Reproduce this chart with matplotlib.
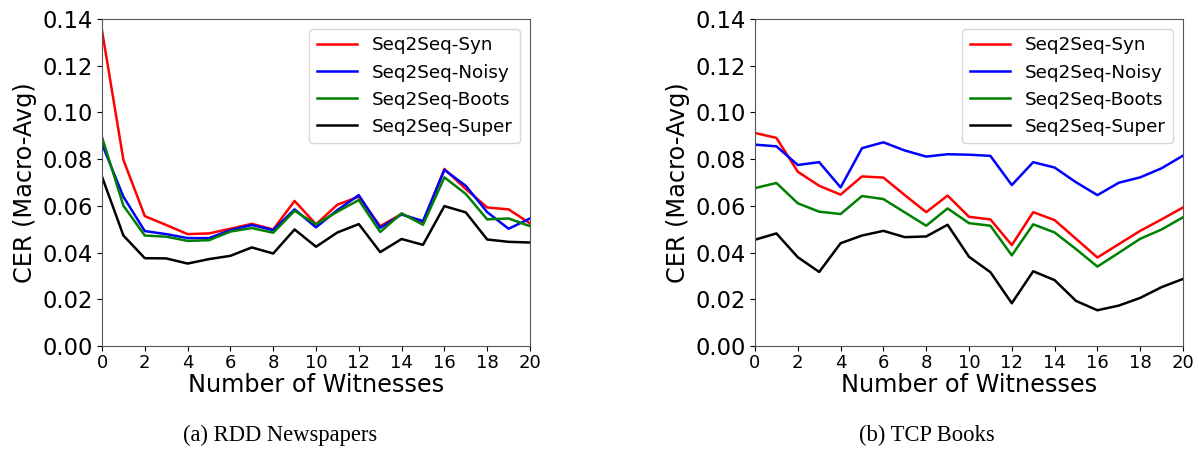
import matplotlib
matplotlib.use("Agg")
import matplotlib.pyplot as plt
import numpy as np

witnesses = list(range(21))
series_names = ["Seq2Seq-Syn", "Seq2Seq-Noisy", "Seq2Seq-Boots", "Seq2Seq-Super"]
colors = ["red", "blue", "green", "black"]

rdd_syn = [0.1351, 0.0797, 0.0556, 0.0518, 0.0479, 0.0482, 0.0502, 0.0523, 0.0499, 0.0621, 0.0521,
           0.0605, 0.0639, 0.0513, 0.0565, 0.0528, 0.0758, 0.0672, 0.0593, 0.0585, 0.0525]
rdd_noisy = [0.0865, 0.0639, 0.0492, 0.0479, 0.0462, 0.0462, 0.0496, 0.0518, 0.0496, 0.0585, 0.0508,
             0.0582, 0.0646, 0.0506, 0.0563, 0.0535, 0.0754, 0.0686, 0.0573, 0.0502, 0.0546]
rdd_boots = [0.0894, 0.0601, 0.0473, 0.0468, 0.0450, 0.0453, 0.0490, 0.0505, 0.0485, 0.0579, 0.0521,
             0.0575, 0.0625, 0.0488, 0.0568, 0.0519, 0.0722, 0.0651, 0.0542, 0.0546, 0.0513]
rdd_super = [0.0725, 0.0473, 0.0376, 0.0375, 0.0353, 0.0372, 0.0386, 0.0422, 0.0396, 0.0499, 0.0425,
             0.0486, 0.0522, 0.0402, 0.0458, 0.0433, 0.0599, 0.0572, 0.0456, 0.0446, 0.0443]

tcp_syn = [0.0912, 0.0891, 0.0746, 0.0686, 0.0648, 0.0726, 0.0721, 0.0646, 0.0573, 0.0644, 0.0553,
           0.0542, 0.0432, 0.0573, 0.0539, 0.0459, 0.0379, 0.0436, 0.0493, 0.0542, 0.0593]
tcp_noisy = [0.0862, 0.0855, 0.0775, 0.0787, 0.0679, 0.0847, 0.0872, 0.0837, 0.0811, 0.0821, 0.0819,
             0.0814, 0.0689, 0.0787, 0.0764, 0.0701, 0.0646, 0.0699, 0.0722, 0.0761, 0.0815]
tcp_boots = [0.0676, 0.0698, 0.0611, 0.0575, 0.0565, 0.0642, 0.0629, 0.0572, 0.0515, 0.0589, 0.0526,
             0.0515, 0.0388, 0.0521, 0.0486, 0.0415, 0.0340, 0.0399, 0.0459, 0.0499, 0.0551]
tcp_super = [0.0455, 0.0482, 0.0380, 0.0317, 0.0440, 0.0473, 0.0493, 0.0466, 0.0469, 0.0519, 0.0382,
             0.0316, 0.0183, 0.0320, 0.0282, 0.0193, 0.0153, 0.0173, 0.0206, 0.0252, 0.0287]

captions = ["(a) RDD Newspapers", "(b) TCP Books"]
panels = [[rdd_syn, rdd_noisy, rdd_boots, rdd_super], [tcp_syn, tcp_noisy, tcp_boots, tcp_super]]

W, H = 1199, 453
fig = plt.figure(figsize=(W / 100, H / 100), dpi=100)
axes_px = [(102, 530), (755, 1183)]
caption_x = [280, 927]
top_px, bot_px = 19, 346

for (x0, x1), data, cap, cx in zip(axes_px, panels, captions, caption_x):
    ax = fig.add_axes([x0 / W, 1 - bot_px / H, (x1 - x0) / W, (bot_px - top_px) / H])
    for name, vals, c in zip(series_names, data, colors):
        ax.plot(witnesses, vals, color=c, lw=1.8, label=name)
    ax.set_xlim(0, 20)
    ax.set_ylim(0, 0.14)
    ax.set_xticks(range(0, 21, 2))
    yt = np.arange(0, 0.141, 0.02)
    ax.set_yticks(yt)
    ax.set_yticklabels([f"{v:.2f}" for v in yt])
    ax.tick_params(axis="x", labelsize=13, pad=2)
    ax.tick_params(axis="y", labelsize=16.3, pad=3)
    ax.set_xlabel("Number of Witnesses", fontsize=17.3, labelpad=1)
    ax.set_ylabel("CER (Macro-Avg)", fontsize=17.3, labelpad=4)
    for s in ax.spines.values():
        s.set_color("#555555")
    ax.legend(loc="upper right", fontsize=13.2, handlelength=2.2, borderaxespad=0.55)
    fig.text(cx / W, 1 - 435 / H, cap, ha="center", va="center",
             family="Liberation Serif", fontsize=16.3)

fig.savefig("out.png", dpi=100)
